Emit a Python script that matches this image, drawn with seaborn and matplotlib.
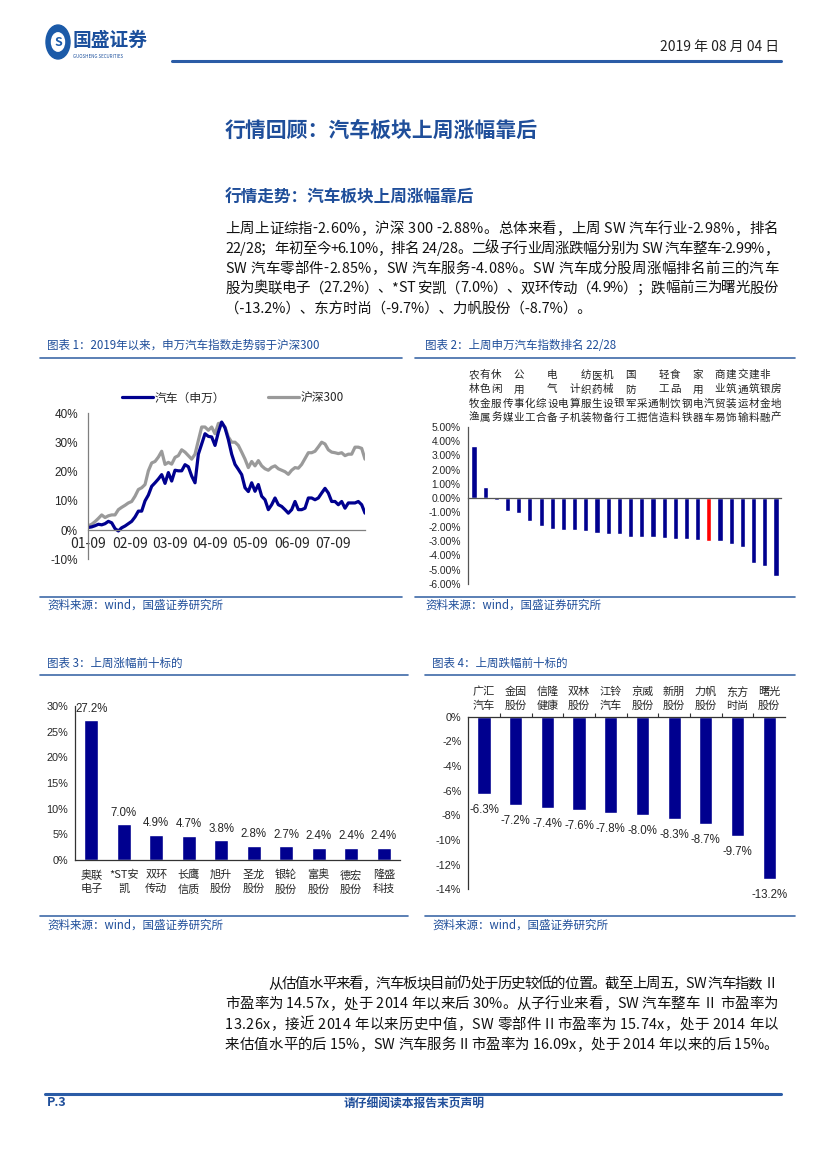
import matplotlib
matplotlib.use("Agg")
import matplotlib.pyplot as plt
import matplotlib.transforms as mtransforms
from matplotlib.lines import Line2D
from matplotlib.patches import Circle
import seaborn as sns
import numpy as np

# ---------------- data ----------------
# chart 1: cumulative return since 2019 (%), sampled along the x axis
auto_sw = [0.9, 1.1, 1.5, 2.0, 1.8, 2.2, 3.0, 2.5, 0.5, -0.3, 0.8, 1.4, 2.2, 3.0,
           4.5, 6.5, 6.5, 10.0, 12.0, 15.0, 16.2, 17.5, 19.0, 16.0, 19.7, 16.8,
           20.5, 20.3, 20.3, 22.4, 21.7, 18.5, 16.2, 26.0, 29.5, 33.0, 32.1, 31.9,
           29.0, 33.5, 37.0, 35.0, 31.0, 26.0, 22.5, 20.8, 19.0, 14.5, 13.2, 16.2,
           13.3, 15.6, 11.6, 10.4, 7.0, 8.7, 11.0, 8.7, 8.1, 7.0, 5.8, 7.0, 9.8,
           7.0, 7.0, 7.5, 11.0, 11.0, 10.4, 11.0, 12.7, 14.3, 12.7, 9.8, 9.8, 8.7,
           9.8, 7.5, 9.3, 9.3, 9.3, 9.8, 8.7, 5.8]
hs300 = [1.5, 2.0, 2.9, 4.0, 5.2, 4.3, 4.9, 5.2, 5.2, 7.0, 7.8, 8.5, 9.3, 9.8,
         11.6, 13.9, 14.5, 15.6, 20.3, 23.0, 23.5, 25.0, 27.0, 22.5, 23.2, 22.6,
         24.9, 25.5, 27.5, 26.7, 25.5, 24.3, 26.0, 30.7, 35.3, 35.3, 34.2, 35.3,
         33.0, 36.5, 36.7, 35.3, 31.9, 30.1, 30.1, 29.0, 26.7, 24.3, 21.4, 23.5,
         22.0, 23.8, 22.0, 21.0, 20.5, 21.5, 22.0, 21.0, 20.5, 20.0, 19.1, 20.5,
         21.4, 21.2, 22.5, 24.5, 26.5, 26.5, 27.0, 28.5, 30.1, 29.5, 27.5, 26.7,
         26.5, 26.2, 26.5, 25.5, 26.0, 26.0, 28.4, 28.4, 28.0, 24.3]
date_ticks = ["01-09", "02-09", "03-09", "04-09", "05-09", "06-09", "07-09"]
date_tick_pos = [-0.2, 12.5, 24.5, 36.5, 48.5, 61.0, 73.3]

# chart 2: SW industry weekly change (%)
industries = ["农林牧渔", "有色金属", "休闲服务", "传媒", "公用事业", "化工", "综合",
              "电气设备", "电子", "计算机", "纺织服装", "医药生物", "机械设备", "银行",
              "国防军工", "采掘", "通信", "轻工制造", "食品饮料", "钢铁", "家用电器",
              "汽车", "商业贸易", "建筑装饰", "交通运输", "建筑材料", "非银金融", "房地产"]
ind_chg = [3.68, 0.75, -0.10, -0.87, -1.06, -1.60, -1.96, -2.13, -2.20, -2.20, -2.32,
           -2.43, -2.48, -2.48, -2.69, -2.69, -2.69, -2.76, -2.86, -2.86, -2.90, -2.98,
           -3.00, -3.19, -3.38, -4.56, -4.77, -5.44]
highlight = "汽车"

# chart 3: top 10 gainers (%)
gainers = ["奥联\n电子", "*ST安\n凯", "双环\n传动", "长鹰\n信质", "旭升\n股份",
           "圣龙\n股份", "银轮\n股份", "富奥\n股份", "德宏\n股份", "隆盛\n科技"]
gain_pct = [27.2, 7.0, 4.9, 4.7, 3.8, 2.8, 2.7, 2.4, 2.4, 2.4]

# chart 4: top 10 losers (%)
losers = ["广汇\n汽车", "金固\n股份", "信隆\n健康", "双林\n股份", "江铃\n汽车",
          "京威\n股份", "新朋\n股份", "力帆\n股份", "东方\n时尚", "曙光\n股份"]
loss_pct = [-6.3, -7.2, -7.4, -7.6, -7.8, -8.0, -8.3, -8.7, -9.7, -13.2]

para1 = ["上周上证综指-2.60%，沪深 300 -2.88%。总体来看，上周 SW 汽车行业-2.98%，排名",
         "22/28；年初至今+6.10%，排名 24/28。二级子行业周涨跌幅分别为 SW 汽车整车-2.99%，",
         "SW 汽车零部件-2.85%，SW 汽车服务-4.08%。SW 汽车成分股周涨幅排名前三的汽车",
         "股为奥联电子（27.2%）、*ST 安凯（7.0%）、双环传动（4.9%）；跌幅前三为曙光股份",
         "（-13.2%）、东方时尚（-9.7%）、力帆股份（-8.7%）。"]
para2 = ["从估值水平来看，汽车板块目前仍处于历史较低的位置。截至上周五，SW 汽车指数 Ⅱ",
         "市盈率为 14.57x，处于 2014 年以来后 30%。从子行业来看，SW 汽车整车 Ⅱ 市盈率为",
         "13.26x，接近 2014 年以来历史中值，SW 零部件 II 市盈率为 15.74x，处于 2014 年以",
         "来估值水平的后 15%，SW 汽车服务 II 市盈率为 16.09x，处于 2014 年以来的后 15%。"]

# ---------------- style ----------------
sns.set_style("white")
plt.rcParams["font.family"] = ["Noto Sans CJK SC", "DejaVu Sans"]
NUM_FONT = ["Liberation Sans", "Noto Sans CJK SC"]
NAVY = "#00008f"
BLUE_TXT = "#1f4e9a"
RULE = "#3e6aa8"
W, H = 827, 1170

fig = plt.figure(figsize=(W / 100, H / 100), dpi=100)
renderer = fig.canvas.get_renderer()


def fx(x):
    return x / W


def fy(y):
    return 1 - y / H


def add_ax(left, top, right, bottom):
    return fig.add_axes([fx(left), fy(bottom), (right - left) / W, (bottom - top) / H])


def hline(x1, x2, y, color=RULE, lw=1.2):
    fig.add_artist(Line2D([fx(x1), fx(x2)], [fy(y), fy(y)], transform=fig.transFigure,
                          color=color, lw=lw))


def ftext(x, y, s, **kw):
    kw.setdefault("va", "center")
    return fig.text(fx(x), fy(y), s, **kw)


def justified(x0, x1, y, s, **kw):
    # place characters one by one so the line fills x0..x1
    arts = [ftext(x0, y, ch, **kw) for ch in s]
    widths = [a.get_window_extent(renderer).width for a in arts]
    gap = (x1 - x0 - sum(widths)) / max(len(arts) - 1, 1)
    x = x0
    for a, w_ in zip(arts, widths):
        a.set_x(fx(x))
        x += w_ + gap


# ---------------- page header ----------------
fig.add_artist(Circle((fx(58), fy(42)), 12 / W, transform=fig.transFigure,
                      color="#1b5aa8", zorder=3))
fig.add_artist(Circle((fx(58), fy(42)), 6.5 / W, transform=fig.transFigure,
                      color="white", zorder=4))
ftext(58, 42, "S", fontsize=9, weight="bold", color="#1b5aa8", ha="center", zorder=5)
ftext(73, 40, "国盛证券", fontsize=13.5, weight="bold", color="#1b4f9c")
ftext(73, 56, "GUOSHENG SECURITIES", fontsize=3.2, color="#1b4f9c")
ftext(779, 47, "2019 年 08 月 04 日", fontsize=10, ha="right", color="#222222")
hline(172, 781, 61, color="#2b5ca6", lw=2.2)

ftext(225, 130, "行情回顾：汽车板块上周涨幅靠后", fontsize=15, weight="bold", color=BLUE_TXT)
ftext(225, 198, "行情走势：汽车板块上周涨幅靠后", fontsize=12, weight="bold", color=BLUE_TXT)

for i, line in enumerate(para1):
    if i < len(para1) - 1:
        justified(225, 778, 229 + i * 19.8, line, fontsize=10.4, color="#111111")
    else:
        ftext(225, 229 + i * 19.8, line, fontsize=10.4, color="#111111")

# ---------------- chart frames ----------------
frames = [(40, 402, 345, 357.5, 596.5, 605, "图表 1：2019年以来，申万汽车指数走势弱于沪深300", 47),
          (415, 795, 345, 358, 596.5, 605, "图表 2：上周申万汽车指数排名 22/28", 425),
          (40, 408, 663, 675, 915.5, 925, "图表 3：上周涨幅前十标的", 47),
          (425, 795, 663, 675, 915.5, 925, "图表 4：上周跌幅前十标的", 432)]
for x1, x2, ty, ly, sy, sty, title, tx in frames:
    ftext(tx, ty, title, fontsize=8.3, color=BLUE_TXT, style="italic")
    hline(x1, x2, ly)
    hline(x1, x2, sy)
    ftext(tx, sty, "资料来源：wind，国盛证券研究所", fontsize=8.3, color=BLUE_TXT, style="italic")

GRAY_AX = "#7f7f7f"

# ---------------- chart 1: line ----------------
ax1 = add_ax(87.7, 413.3, 365, 559.3)
idx = np.arange(len(auto_sw))
sns.lineplot(x=idx, y=hs300, ax=ax1, color="#9a9a9a", linewidth=2.3, label="沪深300")
sns.lineplot(x=idx, y=auto_sw, ax=ax1, color=NAVY, linewidth=2.3, label="汽车（申万）")
ax1.set_xlim(-0.2, len(auto_sw) - 1)
ax1.set_ylim(-10, 40)
ax1.set_yticks([-10, 0, 10, 20, 30, 40])
ax1.set_yticklabels([f"{v}%" for v in [-10, 0, 10, 20, 30, 40]], family=NUM_FONT, fontsize=8.5)
ax1.set_xticks(date_tick_pos)
ax1.set_xticklabels(date_ticks, family=NUM_FONT, fontsize=8.5)
for s in ["top", "right"]:
    ax1.spines[s].set_visible(False)
ax1.spines["bottom"].set_position(("data", 0))
for s in ["left", "bottom"]:
    ax1.spines[s].set_color(GRAY_AX)
    ax1.spines[s].set_linewidth(0.9)
ax1.tick_params(axis="both", direction="out", length=3, width=0.8, color=GRAY_AX, pad=2)
ax1.tick_params(axis="y", pad=4)
ax1.set_xlabel("")
ax1.set_ylabel("")
h, l = ax1.get_legend_handles_labels()
ax1.legend([h[1], h[0]], [l[1], l[0]], loc="center", bbox_to_anchor=(fx(233), fy(398)),
           bbox_transform=fig.transFigure, ncol=2, frameon=False, fontsize=8.5,
           handlelength=2.6, columnspacing=3.6, handletextpad=0.2)

# ---------------- chart 2: industry ranking ----------------
ax2 = add_ax(467.7, 426.7, 781, 584)
bar_cols = ["#ff0000" if n == highlight else NAVY for n in industries]
sns.barplot(x=industries, y=ind_chg, hue=industries, palette=bar_cols, legend=False,
            ax=ax2, width=0.46, saturation=1)
ax2.set_xlim(-0.56, len(industries) - 0.55)
ax2.set_ylim(-6, 5)
yt = np.arange(-6, 6)
ax2.set_yticks(yt)
ax2.set_yticklabels([f"{v:.2f}%" for v in yt], family=NUM_FONT, fontsize=7.4)
ax2.set_xticks([])
for s in ["top", "right"]:
    ax2.spines[s].set_visible(False)
ax2.spines["bottom"].set_position(("data", 0))
for s in ["left", "bottom"]:
    ax2.spines[s].set_color("#555555")
    ax2.spines[s].set_linewidth(0.9)
ax2.tick_params(axis="y", direction="out", length=3, width=0.8, color="#555555", pad=2)
ax2.set_xlabel("")
ax2.set_ylabel("")
trans2 = mtransforms.blended_transform_factory(ax2.transData, fig.transFigure)
row_y = [375, 389.5, 403.5, 417.5]
for i, name in enumerate(industries):
    padded = " " * (4 - len(name)) + name
    for r, ch in enumerate(padded):
        if ch != " ":
            ax2.text(i, fy(row_y[r]), ch, transform=trans2, ha="center", va="center",
                     fontsize=7.6, color="#222222")

# ---------------- chart 3: top gainers ----------------
ax3 = add_ax(75, 706, 400, 860)
sns.barplot(x=gainers, y=gain_pct, ax=ax3, color=NAVY, width=0.42, saturation=1)
ax3.set_xlim(-0.5, len(gainers) - 0.5)
ax3.set_ylim(0, 30)
ax3.set_yticks(range(0, 31, 5))
ax3.set_yticklabels([f"{v}%" for v in range(0, 31, 5)], family=NUM_FONT, fontsize=7.8)
ax3.set_xticks(range(len(gainers)))
ax3.set_xticklabels(gainers, fontsize=8, linespacing=1.45)
ax3.set_xticks(np.arange(0.5, len(gainers) - 0.5, 1), minor=True)
for s in ["top", "right"]:
    ax3.spines[s].set_visible(False)
for s in ["left", "bottom"]:
    ax3.spines[s].set_color("#333333")
    ax3.spines[s].set_linewidth(0.9)
ax3.tick_params(axis="x", which="major", length=0, pad=7)
ax3.tick_params(axis="x", which="minor", length=3, width=0.8, color="#333333")
ax3.tick_params(axis="y", direction="out", length=3, width=0.8, color="#333333", pad=2)
ax3.bar_label(ax3.containers[0], labels=[f"{v:.1f}%" for v in gain_pct], padding=4,
              fontsize=8.3, family=NUM_FONT)
ax3.set_xlabel("")
ax3.set_ylabel("")

# ---------------- chart 4: top losers ----------------
ax4 = add_ax(468.3, 716.7, 785, 889.3)
sns.barplot(x=losers, y=loss_pct, ax=ax4, color=NAVY, width=0.42, saturation=1)
ax4.set_xlim(-0.5, len(losers) - 0.5)
ax4.set_ylim(-14, 0)
ax4.set_yticks(range(-14, 1, 2))
ax4.set_yticklabels([f"{v}%" for v in range(-14, 1, 2)], family=NUM_FONT, fontsize=7.8)
ax4.xaxis.tick_top()
ax4.set_xticks(range(len(losers)))
ax4.set_xticklabels(losers, fontsize=8, linespacing=1.45)
ax4.set_xticks(np.arange(0.5, len(losers) - 0.5, 1), minor=True)
for s in ["bottom", "right"]:
    ax4.spines[s].set_visible(False)
for s in ["left", "top"]:
    ax4.spines[s].set_color("#333333")
    ax4.spines[s].set_linewidth(0.9)
ax4.tick_params(axis="x", which="major", length=0, pad=4)
ax4.tick_params(axis="x", which="minor", top=True, bottom=False, length=3, width=0.8,
                color="#333333")
ax4.tick_params(axis="y", direction="out", length=3, width=0.8, color="#333333", pad=2)
ax4.bar_label(ax4.containers[0], labels=[f"{v:.1f}%" for v in loss_pct], padding=7,
              fontsize=8.3, family=NUM_FONT)
ax4.set_xlabel("")
ax4.set_ylabel("")

# ---------------- closing paragraph & footer ----------------
for i, line in enumerate(para2):
    x0 = 268 if i == 0 else 225
    if i < len(para2) - 1:
        justified(x0, 778, 984 + i * 20.3, line, fontsize=10.4, color="#111111")
    else:
        justified(x0, 778, 984 + i * 20.3, line, fontsize=10.4, color="#111111")

hline(45, 781, 1094, color="#2b5ca6", lw=2.2)
ftext(47, 1103, "P.3", fontsize=9, weight="bold", style="italic", color=BLUE_TXT)
ftext(414, 1103, "请仔细阅读本报告末页声明", fontsize=8.5, weight="bold", color=BLUE_TXT,
      ha="center")

fig.savefig("out.png", dpi=100)
